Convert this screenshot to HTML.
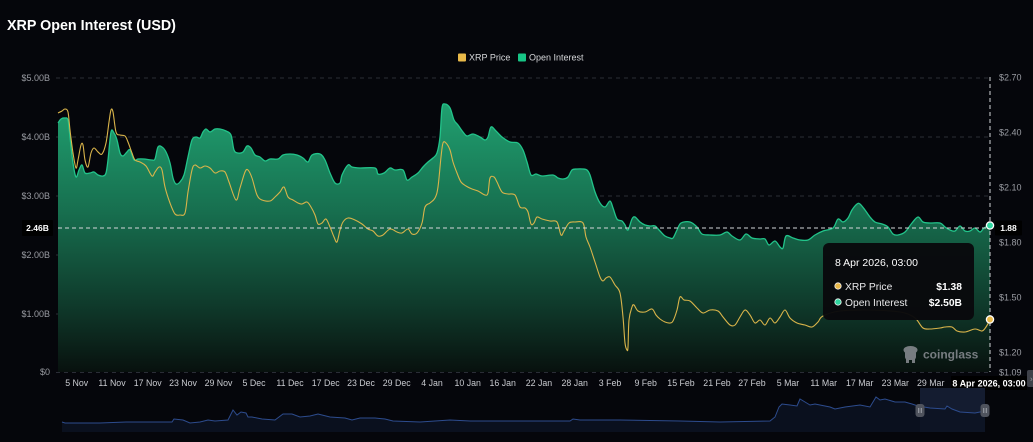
<!DOCTYPE html>
<html><head><meta charset="utf-8"><style>
html,body{margin:0;padding:0;background:#05060b;}
svg{display:block;font-family:"Liberation Sans",sans-serif;}
</style></head><body>
<svg id="chart" width="1033" height="442" viewBox="0 0 1033 442" xmlns="http://www.w3.org/2000/svg">
<defs>
<linearGradient id="g" x1="0" y1="104" x2="0" y2="372" gradientUnits="userSpaceOnUse">
<stop offset="0" stop-color="#20a070"/>
<stop offset="0.4" stop-color="#176f4f"/>
<stop offset="0.75" stop-color="#0f3a2b"/>
<stop offset="1" stop-color="#08110e"/>
</linearGradient>
</defs>
<rect width="1033" height="442" fill="#05060b"/>
<text x="7" y="30" fill="#ffffff" font-size="14.3" font-weight="bold">XRP Open Interest (USD)</text>
<rect x="458" y="53.5" width="8" height="8" fill="#e9b949" rx="1"/>
<text x="469" y="60.6" fill="#d6d7da" font-size="9">XRP Price</text>
<rect x="518" y="53.5" width="8" height="8" fill="#17c586" rx="1"/>
<text x="529" y="60.6" fill="#d6d7da" font-size="9">Open Interest</text>
<g stroke="#2a2d36" stroke-width="1" stroke-dasharray="4,4">
<line x1="56" y1="78" x2="990" y2="78"/>
<line x1="56" y1="137" x2="990" y2="137"/>
<line x1="56" y1="196" x2="990" y2="196"/>
<line x1="56" y1="255" x2="990" y2="255"/>
<line x1="56" y1="314" x2="990" y2="314"/>
<line x1="56" y1="372.5" x2="990" y2="372.5"/>
</g>
<g fill="#9a9ca3" font-size="9" text-anchor="end">
<text x="50" y="81">$5.00B</text>
<text x="50" y="140">$4.00B</text>
<text x="50" y="199">$3.00B</text>
<text x="50" y="258">$2.00B</text>
<text x="50" y="317">$1.00B</text>
<text x="50" y="375">$0</text>
</g>
<g fill="#9a9ca3" font-size="9">
<text x="999" y="80.5">$2.70</text>
<text x="999" y="135.5">$2.40</text>
<text x="999" y="190.5">$2.10</text>
<text x="999" y="245.5">$1.80</text>
<text x="999" y="300.5">$1.50</text>
<text x="999" y="355.5">$1.20</text>
<text x="999" y="375.5">$1.09</text>
</g>
<polygon class="sa" fill="url(#g)" points="58,123 61,119 65,118 68,120 70,137 73,163 76,177 79,170 82,165 85,173 90,173 94,172 98,175 103,176 106,173 108,160 111,132 114,133 117,140 120,153 123,156 127,152 130,150 134,160 138,159 144,159 152,160 155,159 158,147 162,147 166,152 170,163 173,178 176,184 180,182 184,175 188,157 192,140 196,137 200,138 203,132 206,129 210,132 215,129 220,129 226,131 231,135 234,150 238,153 243,152 247,146 251,148 255,155 260,157 265,161 270,159 278,159 283,155 290,154 297,155 303,158 308,162 312,155 320,154 325,160 330,173 335,183 340,183 342,175 348,165 352,167 360,168 375,168 378,174 384,173 390,168 395,170 403,170 407,180 412,177 418,173 423,167 428,162 433,158 437,153 440,137 442,108 445,104 450,108 454,120 458,125 463,132 467,136 473,134 480,137 485,140 488,137 491,127 496,131 502,137 510,142 518,143 523,150 527,162 531,175 536,174 542,176 553,175 558,178 563,179 568,177 572,170 577,169 583,169 587,170 590,175 595,192 600,203 605,207 610,201 613,208 617,219 622,221 625,225 628,230 632,219 635,217 640,222 645,225 650,226 655,226 660,231 665,236 670,238 673,238 677,230 681,223 690,222 697,227 702,234 710,235 720,235 727,232 732,236 740,240 746,234 752,238 760,239 765,239 769,245 775,241 780,247 783,248 786,236 793,238 800,240 808,240 815,235 823,231 833,228 838,219 843,222 848,218 852,210 857,204 860,204 865,210 870,217 875,222 882,224 888,227 893,234 898,235 905,232 912,223 918,217 923,222 930,223 940,223 945,227 950,230 955,231 960,226 965,231 970,231 975,228 980,232 984,228 990,225 990,372 58,372"/>
<polyline class="s" fill="none" stroke="#22c48a" stroke-width="1.3" stroke-linejoin="round" points="58,123 61,119 65,118 68,120 70,137 73,163 76,177 79,170 82,165 85,173 90,173 94,172 98,175 103,176 106,173 108,160 111,132 114,133 117,140 120,153 123,156 127,152 130,150 134,160 138,159 144,159 152,160 155,159 158,147 162,147 166,152 170,163 173,178 176,184 180,182 184,175 188,157 192,140 196,137 200,138 203,132 206,129 210,132 215,129 220,129 226,131 231,135 234,150 238,153 243,152 247,146 251,148 255,155 260,157 265,161 270,159 278,159 283,155 290,154 297,155 303,158 308,162 312,155 320,154 325,160 330,173 335,183 340,183 342,175 348,165 352,167 360,168 375,168 378,174 384,173 390,168 395,170 403,170 407,180 412,177 418,173 423,167 428,162 433,158 437,153 440,137 442,108 445,104 450,108 454,120 458,125 463,132 467,136 473,134 480,137 485,140 488,137 491,127 496,131 502,137 510,142 518,143 523,150 527,162 531,175 536,174 542,176 553,175 558,178 563,179 568,177 572,170 577,169 583,169 587,170 590,175 595,192 600,203 605,207 610,201 613,208 617,219 622,221 625,225 628,230 632,219 635,217 640,222 645,225 650,226 655,226 660,231 665,236 670,238 673,238 677,230 681,223 690,222 697,227 702,234 710,235 720,235 727,232 732,236 740,240 746,234 752,238 760,239 765,239 769,245 775,241 780,247 783,248 786,236 793,238 800,240 808,240 815,235 823,231 833,228 838,219 843,222 848,218 852,210 857,204 860,204 865,210 870,217 875,222 882,224 888,227 893,234 898,235 905,232 912,223 918,217 923,222 930,223 940,223 945,227 950,230 955,231 960,226 965,231 970,231 975,228 980,232 984,228 990,225"/>
<polyline class="s" fill="none" stroke="#d9b44a" stroke-width="1.1" stroke-linejoin="round" points="58,113 62,111 65,109 68,112 70,130 73,153 76,168 78,160 81,145 83,145 85,160 88,167 91,153 94,148 98,152 102,154 106,143 109,122 111,110 113,112 116,132 120,135 125,136 128,142 132,153 135,160 140,162 146,166 152,176 155,172 159,167 162,170 165,187 170,203 175,214 180,215 185,213 188,192 192,170 195,165 200,168 205,166 210,168 215,173 220,171 225,172 229,182 236,200 240,188 245,172 248,170 252,178 257,195 262,200 270,201 275,197 280,192 284,187 288,197 293,200 298,203 302,204 307,202 311,207 315,215 318,224 322,223 326,219 330,227 334,237 337,242 340,230 343,222 348,218 355,220 362,224 368,229 373,231 378,236 383,235 390,229 397,232 402,233 408,229 412,234 417,233 422,223 425,207 430,203 435,198 438,187 441,157 443,143 446,143 450,150 453,162 457,173 461,182 466,186 472,189 478,191 485,195 488,193 490,178 494,177 497,182 502,192 508,194 515,195 520,207 525,208 528,212 531,224 534,223 537,217 542,219 550,221 557,222 561,235 564,231 569,223 575,222 583,223 586,237 590,247 595,262 600,277 603,281 606,278 610,277 615,285 620,293 623,317 625,343 627,350 628,347 629,320 632,307 634,305 638,311 645,312 652,309 656,315 660,319 665,322 670,323 673,321 677,310 680,297 684,300 690,301 697,308 703,313 710,310 718,311 723,317 730,325 735,325 740,317 745,310 750,315 755,323 760,320 765,325 770,318 775,323 780,317 785,310 790,318 797,323 805,325 812,327 818,322 823,316 840,311 870,310 900,312 912,316 917,320 923,328 930,329 940,328 945,327 952,327 957,331 965,332 975,329 982,331 986,327 990,320"/>
<g stroke="#d4d6da" stroke-width="1" stroke-dasharray="4,3">
<line x1="58" y1="228" x2="990" y2="228"/>
<line x1="990" y1="77" x2="990" y2="372"/>
</g>
<rect x="22" y="220" width="31" height="16" fill="#000000" rx="1"/>
<text x="37.5" y="231" fill="#ffffff" font-size="8.5" font-weight="bold" text-anchor="middle">2.46B</text>
<rect x="995" y="220.5" width="27" height="15" fill="#000000" rx="1"/>
<text x="1008.5" y="231" fill="#ffffff" font-size="8.5" font-weight="bold" text-anchor="middle">1.88</text>
<circle cx="990" cy="225.5" r="3.6" fill="#2fd6a0" stroke="#ffffff" stroke-width="1.3"/>
<circle cx="990" cy="319.5" r="3.6" fill="#e9b949" stroke="#ffffff" stroke-width="1.3"/>
<rect x="823" y="243" width="151" height="77" rx="6" fill="#09090c" fill-opacity="0.97"/>
<text x="835" y="266" fill="#ffffff" font-size="10.5">8 Apr 2026, 03:00</text>
<circle cx="838" cy="286" r="3.2" fill="#e9b949" stroke="#f4f4f4" stroke-width="0.8"/>
<text x="845" y="289.8" fill="#e8e8ea" font-size="10.3">XRP Price</text>
<text x="962" y="289.8" fill="#ffffff" font-size="10.3" font-weight="bold" text-anchor="end">$1.38</text>
<circle cx="838" cy="302" r="3.2" fill="#2fd6a0" stroke="#f4f4f4" stroke-width="0.8"/>
<text x="845" y="305.8" fill="#e8e8ea" font-size="10.3">Open Interest</text>
<text x="962" y="305.8" fill="#ffffff" font-size="10.3" font-weight="bold" text-anchor="end">$2.50B</text>
<g fill="#8b8e94" opacity="0.85">
<ellipse cx="910.5" cy="350" rx="7" ry="4"/>
<rect x="905" y="350" width="11" height="10" rx="3"/>
<rect x="906" y="358" width="3" height="5"/>
<rect x="912" y="358" width="3" height="5"/>
<text x="923" y="358.5" font-size="12" font-weight="bold">coinglass</text>
</g>
<g fill="#c9cbd0" font-size="8.8" text-anchor="middle">
<text x="76.7" y="386">5 Nov</text>
<text x="112" y="386">11 Nov</text>
<text x="147.7" y="386">17 Nov</text>
<text x="183" y="386">23 Nov</text>
<text x="218.5" y="386">29 Nov</text>
<text x="254" y="386">5 Dec</text>
<text x="290" y="386">11 Dec</text>
<text x="325.7" y="386">17 Dec</text>
<text x="361" y="386">23 Dec</text>
<text x="396.7" y="386">29 Dec</text>
<text x="432" y="386">4 Jan</text>
<text x="467.7" y="386">10 Jan</text>
<text x="502.7" y="386">16 Jan</text>
<text x="539" y="386">22 Jan</text>
<text x="574.7" y="386">28 Jan</text>
<text x="610" y="386">3 Feb</text>
<text x="645.7" y="386">9 Feb</text>
<text x="681" y="386">15 Feb</text>
<text x="717" y="386">21 Feb</text>
<text x="752" y="386">27 Feb</text>
<text x="788" y="386">5 Mar</text>
<text x="823.7" y="386">11 Mar</text>
<text x="859.7" y="386">17 Mar</text>
<text x="895.3" y="386">23 Mar</text>
<text x="930.7" y="386">29 Mar</text>
</g>
<rect x="951" y="376" width="76" height="14" fill="#000000"/>
<text x="989" y="386.3" fill="#ffffff" font-size="9" font-weight="bold" text-anchor="middle">8 Apr 2026, 03:00</text>
<rect x="1027" y="370" width="8" height="17" rx="2" fill="#3e4149"/>
<text x="1030" y="381.5" fill="#9a9ca3" font-size="8">›</text>
<rect x="920" y="388" width="65" height="44" fill="#141c30"/>
<path fill="#0c1322" fill-opacity="0.85" d="M62,432 L62,422 65,423 100,423 126,422 172,422 174,419 183,420 190,423 200,422 208,420 215,421 228,420 233,410 237,415 241,412 246,413 248,417 252,417 262,419 275,420 283,414 292,414 300,417 310,416 318,414 330,417 345,418 352,420 360,418 375,418 385,419 393,421 420,422 450,420 470,421 520,421 570,421 573,419 580,420 620,420 680,421 720,422 770,421 775,417 779,407 782,404 790,405 797,406 800,399 805,402 810,405 815,404 830,407 835,409 845,407 860,405 870,407 876,397 880,400 885,399 895,402 905,402 912,404 918,406 930,408 945,409 947,406 952,409 960,412 975,413 985,411 L985,432 Z"/>
<polyline fill="none" stroke="#2d4c8e" stroke-width="1" points="62,422 65,423 100,423 126,422 172,422 174,419 183,420 190,423 200,422 208,420 215,421 228,420 233,410 237,415 241,412 246,413 248,417 252,417 262,419 275,420 283,414 292,414 300,417 310,416 318,414 330,417 345,418 352,420 360,418 375,418 385,419 393,421 420,422 450,420 470,421 520,421 570,421 573,419 580,420 620,420 680,421 720,422 770,421 775,417 779,407 782,404 790,405 797,406 800,399 805,402 810,405 815,404 830,407 835,409 845,407 860,405 870,407 876,397 880,400 885,399 895,402 905,402 912,404 918,406 930,408 945,409 947,406 952,409 960,412 975,413 985,411"/>
<rect x="915.5" y="404" width="9" height="13" rx="3" fill="#4f535d"/>
<line x1="918.8" y1="408" x2="918.8" y2="413" stroke="#b9bcc3" stroke-width="0.8"/>
<line x1="921.2" y1="408" x2="921.2" y2="413" stroke="#b9bcc3" stroke-width="0.8"/>
<rect x="980.5" y="404" width="9" height="13" rx="3" fill="#4f535d"/>
<line x1="983.8" y1="408" x2="983.8" y2="413" stroke="#b9bcc3" stroke-width="0.8"/>
<line x1="986.2" y1="408" x2="986.2" y2="413" stroke="#b9bcc3" stroke-width="0.8"/>
</svg>
<script>
(function(){
  var NS='http://www.w3.org/2000/svg';
  function parse(el){
    return el.getAttribute('points').trim().split(/\s+/).map(function(s){return s.split(',').map(Number);});
  }
  function smooth(p){
    var d='M'+p[0][0]+','+p[0][1];
    for(var i=0;i<p.length-1;i++){
      var p0=p[i-1]||p[i],p1=p[i],p2=p[i+1],p3=p[i+2]||p2,t=1/6;
      var c1x=p1[0]+(p2[0]-p0[0])*t,c1y=p1[1]+(p2[1]-p0[1])*t;
      var c2x=p2[0]-(p3[0]-p1[0])*t,c2y=p2[1]-(p3[1]-p1[1])*t;
      d+=' C'+c1x.toFixed(2)+','+c1y.toFixed(2)+' '+c2x.toFixed(2)+','+c2y.toFixed(2)+' '+p2[0]+','+p2[1];
    }
    return d;
  }
  function swap(el,d){
    var path=document.createElementNS(NS,'path');
    ['fill','stroke','stroke-width','stroke-linejoin'].forEach(function(a){
      if(el.hasAttribute(a))path.setAttribute(a,el.getAttribute(a));
    });
    path.setAttribute('d',d);
    el.parentNode.replaceChild(path,el);
  }
  try{
    Array.prototype.slice.call(document.querySelectorAll('polyline.s')).forEach(function(el){
      swap(el,smooth(parse(el)));
    });
    Array.prototype.slice.call(document.querySelectorAll('polygon.sa')).forEach(function(el){
      var p=parse(el);var base=p.slice(-2);var line=p.slice(0,-2);
      swap(el,smooth(line)+' L'+base[0][0]+','+base[0][1]+' L'+base[1][0]+','+base[1][1]+' Z');
    });
  }catch(e){}
})();
</script>
</body></html>
